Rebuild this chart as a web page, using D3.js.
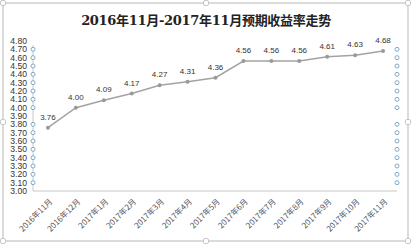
<!DOCTYPE html>
<html>
<head>
<meta charset="utf-8">
<script src="https://cdn.jsdelivr.net/npm/d3@7"></script>
<style>
  body { margin: 0; background: #fff; }
  svg { display: block; font-family: "Liberation Sans", Arial, sans-serif; }
</style>
</head>
<body>
<div class="chart__container"></div>
<script>
/*---------------------------Init---------------------------*/

const CHART__WIDTH = 413;
const CHART__HEIGHT = 248;
const MARGIN = { top: 41, right: 16, bottom: 57, left: 34 };

const TITLE = "2016年11月-2017年11月预期收益率走势";
const MONTHS = ["2016年11月", "2016年12月", "2017年1月", "2017年2月", "2017年3月", "2017年4月",
    "2017年5月", "2017年6月", "2017年7月", "2017年8月", "2017年9月", "2017年10月", "2017年11月"];
const RATES = [3.76, 4.00, 4.09, 4.17, 4.27, 4.31, 4.36, 4.56, 4.56, 4.56, 4.61, 4.63, 4.68];
const Y_TICKS = d3.range(0, 19).map(i => +(3 + i * 0.1).toFixed(2));
// the little rings drawn along both sides
const RING_TICKS = [4.70, 4.60, 4.50, 4.40, 4.30, 4.20, 4.10, 4.00, 3.80, 3.70, 3.60, 3.50, 3.40, 3.30, 3.20, 3.10];

const COLOR = {
    line: "#a3a3a3",
    text: "#333",
    axis: "#c8c8c8",
    ring: "#7ea9c9",
    frame: "#cfcfcf"
};

/*---------------------------Draw---------------------------*/

const svg = d3.select(".chart__container").append("svg")
    .attr("width", CHART__WIDTH)
    .attr("height", CHART__HEIGHT);

const xScale = d3.scaleBand().domain(MONTHS)
    .range([MARGIN.left, CHART__WIDTH - MARGIN.right]);
const yScale = d3.scaleLinear().domain([3, 4.8])
    .range([CHART__HEIGHT - MARGIN.bottom, MARGIN.top]);
const cx = d => xScale(d) + xScale.bandwidth() / 2;

//frame

svg.append("rect")
    .attr("x", 3).attr("y", 3)
    .attr("width", 405).attr("height", 238)
    .attr("fill", "none")
    .attr("stroke", COLOR.frame)
    .attr("stroke-width", 1.5);

const handles = [[3, 3], [206, 3], [408, 3], [3, 122], [408, 122], [3, 241], [206, 241], [408, 241]];
svg.selectAll(".handle")
    .data(handles)
    .enter()
    .append("rect")
    .attr("class", "handle")
    .attr("x", d => d[0] - 2.5).attr("y", d => d[1] - 2.5)
    .attr("width", 5).attr("height", 5)
    .attr("rx", 1.5)
    .attr("fill", "#fff")
    .attr("stroke", "#bbb")
    .attr("stroke-width", 0.8);

//title

svg.append("text")
    .attr("x", 206)
    .attr("y", 25)
    .attr("text-anchor", "middle")
    .attr("font-family", "'DejaVu Serif', 'Noto Sans CJK SC', serif")
    .attr("font-weight", "bold")
    .attr("font-size", 13)
    .attr("letter-spacing", -0.3)
    .attr("fill", "#222")
    .text(TITLE);

//y axis labels

svg.append("g")
    .selectAll("text")
    .data(Y_TICKS)
    .enter()
    .append("text")
    .attr("x", 27)
    .attr("y", d => yScale(d) + 3)
    .attr("text-anchor", "end")
    .attr("font-size", 8.6)
    .attr("fill", COLOR.text)
    .text(d => d.toFixed(2));

//axis lines

svg.append("line")
    .attr("x1", MARGIN.left - 1).attr("x2", MARGIN.left - 1)
    .attr("y1", yScale(4.75)).attr("y2", yScale(3))
    .attr("stroke", COLOR.axis);

svg.append("line")
    .attr("x1", MARGIN.left - 1).attr("x2", CHART__WIDTH - MARGIN.right)
    .attr("y1", yScale(3)).attr("y2", yScale(3))
    .attr("stroke", COLOR.axis);

//rings

[MARGIN.left - 1, CHART__WIDTH - MARGIN.right].forEach(x => {
    svg.append("g")
        .selectAll("circle")
        .data(RING_TICKS)
        .enter()
        .append("circle")
        .attr("cx", x)
        .attr("cy", d => yScale(d))
        .attr("r", 2)
        .attr("fill", "#fff")
        .attr("stroke", COLOR.ring)
        .attr("stroke-width", 1);
});

//x axis labels

svg.append("g")
    .selectAll("text")
    .data(MONTHS)
    .enter()
    .append("text")
    .attr("transform", d => `translate(${cx(d) + 5},${yScale(3) + 11}) rotate(-45)`)
    .attr("text-anchor", "end")
    .attr("font-family", "'Noto Sans CJK SC', sans-serif")
    .attr("font-size", 8)
    .attr("fill", "#555")
    .text(d => d);

//line

const line = d3.line()
    .x((d, i) => cx(MONTHS[i]))
    .y(d => yScale(d));

svg.append("path")
    .datum(RATES)
    .attr("d", line)
    .attr("fill", "none")
    .attr("stroke", COLOR.line)
    .attr("stroke-width", 1.5);

svg.append("g")
    .selectAll("circle")
    .data(RATES)
    .enter()
    .append("circle")
    .attr("cx", (d, i) => cx(MONTHS[i]))
    .attr("cy", d => yScale(d))
    .attr("r", 2)
    .attr("fill", "#999");

//value labels

svg.append("g")
    .selectAll("text")
    .data(RATES)
    .enter()
    .append("text")
    .attr("x", (d, i) => cx(MONTHS[i]))
    .attr("y", d => yScale(d) - 8)
    .attr("text-anchor", "middle")
    .attr("font-size", 8)
    .attr("fill", COLOR.text)
    .text(d => d.toFixed(2));
</script>
</body>
</html>
